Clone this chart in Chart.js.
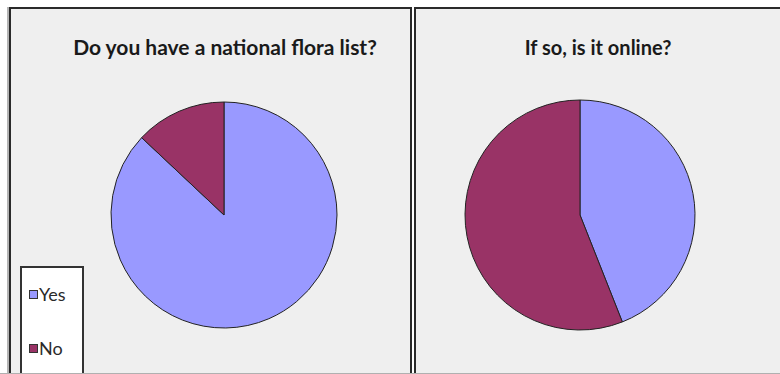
<!DOCTYPE html>
<html>
<head>
<meta charset="utf-8">
<script src="https://cdn.jsdelivr.net/npm/chart.js@4"></script>
<style>
  body { margin: 0; width: 780px; height: 374px; overflow: hidden; background: #ffffff; font-family: Lato, "Open Sans", sans-serif; }
  .panel { position: absolute; top: 7px; height: 366px; background: #efefef; border: 2px solid #2a2a2a; border-bottom: none; box-sizing: border-box; }
  #panel1 { left: 9px; width: 403px; box-shadow: -2px 0 0 #b5b5b5; }
  #panel2 { left: 414px; width: 380px; }
  .title { position: absolute; top: 26px; font-weight: bold; font-size: 20px; line-height: 24px; color: #1a1a1a; text-align: center; white-space: nowrap; }
  .pie { position: absolute; width: 250px; height: 250px; }
  #legend { position: absolute; left: 9px; top: 257px; width: 64px; height: 120px; background: #ffffff; border: 2px solid #333333; box-sizing: border-box; }
  .item { position: absolute; left: 7px; font-size: 18px; color: #2a2a2a; line-height: 20px; }
  .swatch { display: inline-block; width: 7px; height: 7px; border: 1px solid #333333; margin-right: 1px; vertical-align: 2px; }
  #bottomline { position: absolute; left: 0; top: 373px; width: 780px; height: 1px; background: #b0b0b0; }
</style>
</head>
<body>
<div class="panel" id="panel1">
  <div class="title" id="title1" style="left: 0; width: 428px; font-size: 21px;"></div>
  <div class="pie" style="left: 88px; top: 81px;"><canvas id="pie1"></canvas></div>
  <div id="legend"></div>
</div>
<div class="panel" id="panel2">
  <div class="title" id="title2" style="left: 0; width: 364px;"></div>
  <div class="pie" style="left: 39px; top: 81px;"><canvas id="pie2"></canvas></div>
</div>
<div id="bottomline"></div>
<script>
var labels = ['Yes', 'No'];
var floraListValues = [87, 13];
var onlineValues = [44, 56];
var titles = ['Do you have a national flora list?', 'If so, is it online?'];
var colors = ['#9999ff', '#993366'];

document.getElementById('title1').textContent = titles[0];
document.getElementById('title2').textContent = titles[1];

// legend like the old spreadsheet one, white box in the bottom left
var legend = document.getElementById('legend');
var tops = [16, 70];
for (let i = 0; i < labels.length; i++) {
    var item = document.createElement('div');
    item.className = 'item';
    item.style.top = tops[i] + 'px';
    var sw = document.createElement('span');
    sw.className = 'swatch';
    sw.style.background = colors[i];
    item.appendChild(sw);
    item.appendChild(document.createTextNode(labels[i]));
    legend.appendChild(item);
}

function createPie(id, values, radius) {
    return new Chart(document.getElementById(id), {
        type: 'pie',
        data: {
            labels: labels,
            datasets: [{
                data: values,
                backgroundColor: colors,
                borderColor: '#222222',
                borderWidth: 1,
                radius: radius
            }]
        },
        options: {
            responsive: true,
            maintainAspectRatio: false,
            animation: false,
            events: [],
            plugins: {
                legend: { display: false },
                title: { display: false },
                tooltip: { enabled: false }
            }
        }
    });
}

createPie('pie1', floraListValues, 113);
createPie('pie2', onlineValues, 115);
</script>
</body>
</html>
